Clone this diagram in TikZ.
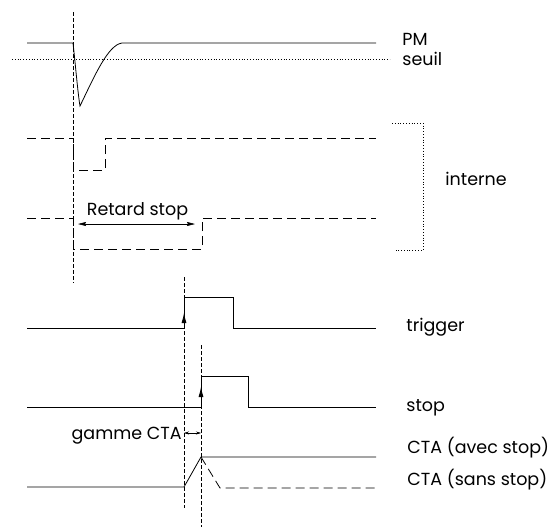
\documentclass[tikz,border=0pt]{standalone}
\usepackage{fontspec}
\setmainfont{Poppins}
\usetikzlibrary{arrows.meta}

\begin{document}
\begin{tikzpicture}[x=1pt, y=-1pt, line width=0.8pt,
		sigdash/.style={dash pattern=on 9pt off 5pt},
		tline/.style={line width=0.6pt, dash pattern=on 3.5pt off 2.5pt},
		lbl/.style={font=\fontsize{17.5}{20}\selectfont, inner sep=0pt, anchor=base west},
		up/.style={-{Latex[length=10pt,width=5pt]}},
		span/.style={{Stealth[length=8pt,width=4pt,inset=1pt]}-{Stealth[length=8pt,width=4pt,inset=1pt]}, line width=0.6pt}]
		%%%%% START %%%%%
		\useasboundingbox (0,0) rectangle (558,531);
		
		% time marks
		\draw[tline] (73, 12) -- (73, 283);
		\draw[tline] (184, 277) -- (184, 508);
		\draw[tline] (201, 345) -- (201, 527);
		
		% PM and seuil
		\draw (27, 43) -- (73, 43) .. controls (75, 60) and (78, 95) .. (80, 106)
			.. controls (95, 75) and (108, 45) .. (122, 43) -- (376, 43);
		\draw[dotted] (12, 59) -- (390, 59);
		\node[lbl] (pm) at (402, 45.5) {PM};
		\node[lbl] (seuil) at (402, 65) {seuil};
		
		% interne
		\draw[sigdash] (27, 138) -- (73, 138) -- (73, 170) -- (105, 170) -- (105, 138) -- (376, 138);
		\draw[sigdash] (27, 218) -- (73, 218) -- (73, 249) -- (202, 249) -- (202, 218) -- (376, 218);
		\coordinate (rA) at (78, 224);
		\coordinate (rB) at (195, 224);
		\draw[span] (rA) -- (rB);
		\node[lbl, anchor=base] (retard) at (137.5, 215) {Retard stop};
		\draw[dotted] (392, 123) -- (423, 123) -- (423, 250) -- (396, 250);
		\node[lbl] (interne) at (445, 185.5) {interne};
		
		% trigger
		\draw (27, 328) -- (184, 328) -- (184, 297) -- (233, 297) -- (233, 328) -- (376, 328);
		\coordinate (tA) at (184, 328);
		\coordinate (tB) at (184, 313);
		\draw[up] (tA) -- (tB);
		\node[lbl] (trigger) at (406, 331.5) {trigger};
		
		% stop
		\draw (27, 407) -- (201, 407) -- (201, 376) -- (248, 376) -- (248, 407) -- (376, 407);
		\coordinate (sA) at (201, 407);
		\coordinate (sB) at (201, 387);
		\draw[up] (sA) -- (sB);
		\node[lbl] (stop) at (406, 411.5) {stop};
		
		% gamme CTA
		\coordinate (gA) at (184, 433);
		\coordinate (gB) at (201, 433);
		\draw[{Stealth[length=5pt,width=3pt]}-{Stealth[length=5pt,width=3pt]}, line width=0.5pt] (gA) -- (gB);
		\node[lbl, anchor=base east] (gamme) at (182, 439) {gamme CTA};
		
		% CTA
		\draw (27, 487) -- (184, 487) -- (201, 457) -- (376, 457);
		\draw[sigdash] (201, 457) -- (220, 488) -- (376, 488);
		\node[lbl] (ctaavec) at (407, 453.5) {CTA (avec stop)};
		\node[lbl] (ctasans) at (407, 485) {CTA (sans stop)};
		%%%%% END %%%%%
	\end{tikzpicture}
\end{document}
